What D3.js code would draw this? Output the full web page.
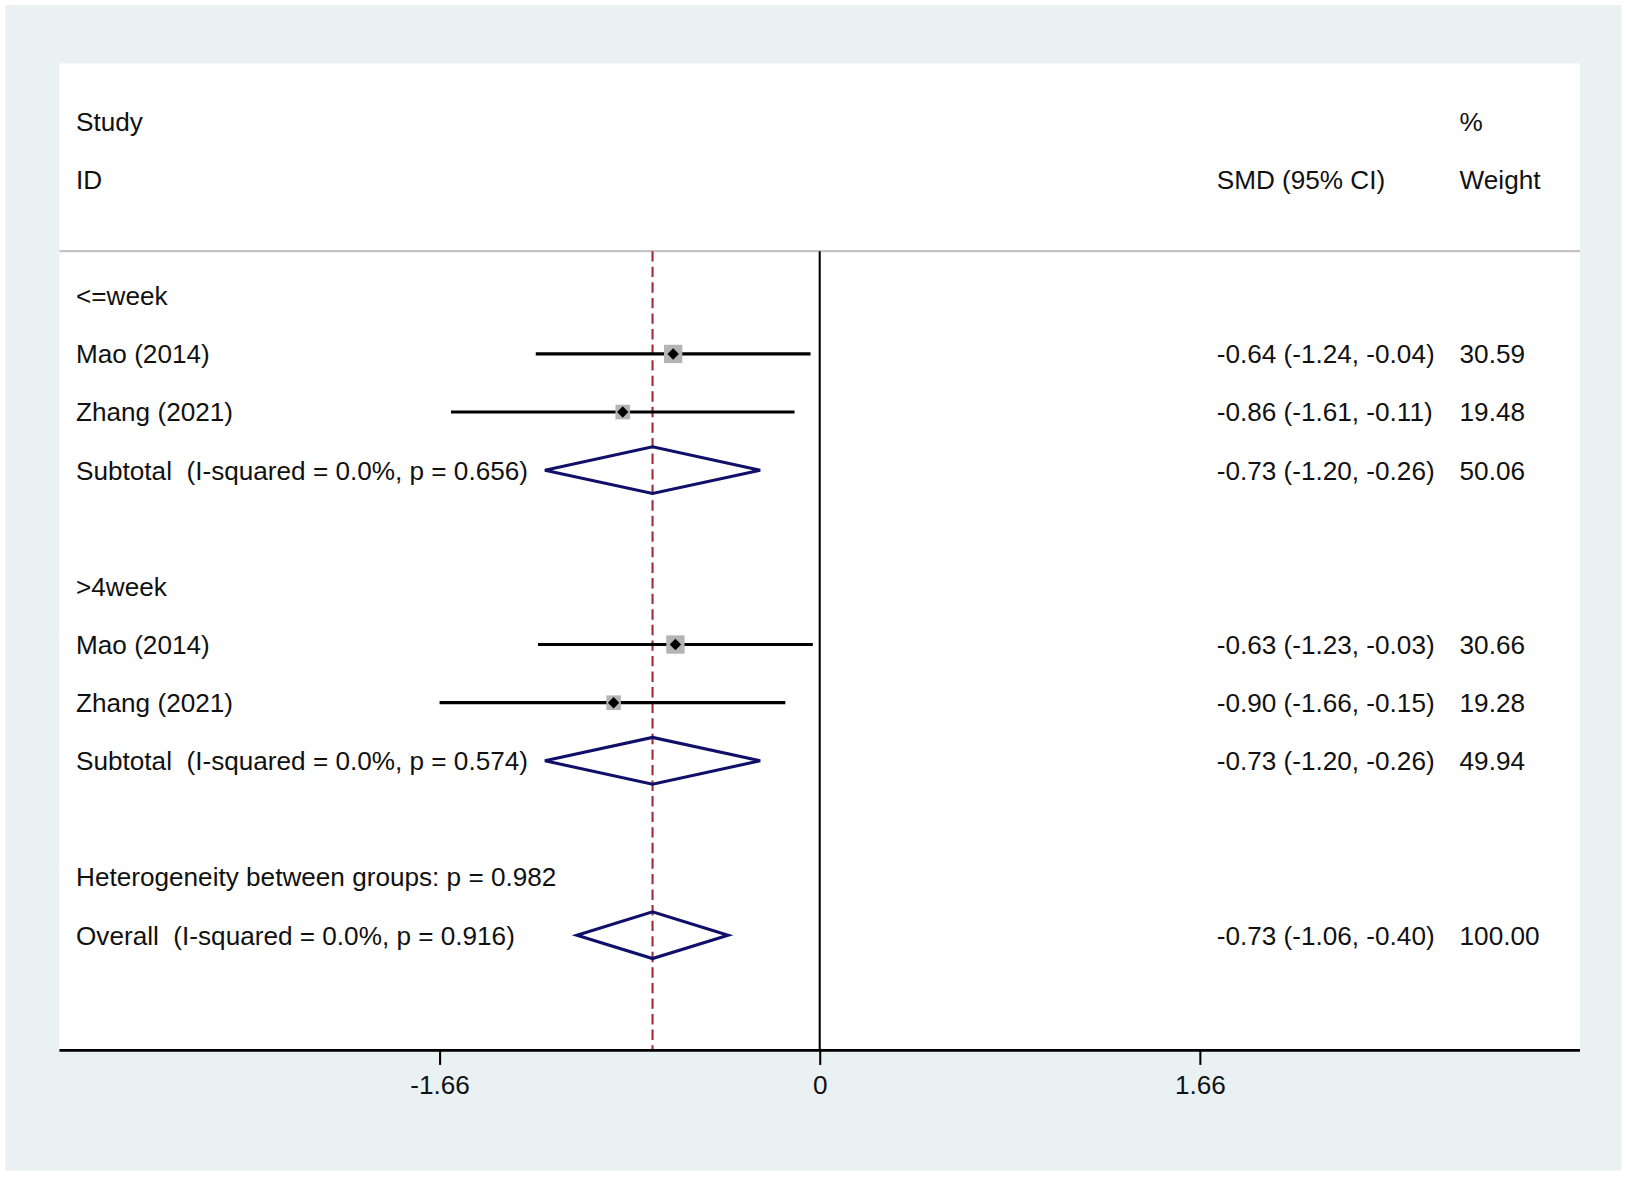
<!DOCTYPE html>
<html>
<head>
<meta charset="utf-8">
<script src="https://cdn.jsdelivr.net/npm/d3@7"></script>
<style>
  html, body { margin: 0; padding: 0; background: #ffffff; }
  svg { display: block; }
  text { font-family: "Liberation Sans", Arial, Helvetica, sans-serif; fill: #111; white-space: pre; }
</style>
</head>
<body>
<svg id="chart"></svg>
<script>
// forest plot data, one entry per row below the header
const rowLabels = ["<=week", "Mao (2014)", "Zhang (2021)", "Subtotal  (I-squared = 0.0%, p = 0.656)", "",
                   ">4week", "Mao (2014)", "Zhang (2021)", "Subtotal  (I-squared = 0.0%, p = 0.574)", "",
                   "Heterogeneity between groups: p = 0.982", "Overall  (I-squared = 0.0%, p = 0.916)"];
const rowTypes = ["group", "study", "study", "sub", "blank",
                  "group", "study", "study", "sub", "blank",
                  "note", "overall"];
const smd =     [null, -0.64, -0.86, -0.73, null, null, -0.63, -0.90, -0.73, null, null, -0.73];
const ciLow =   [null, -1.24, -1.61, -1.20, null, null, -1.23, -1.66, -1.20, null, null, -1.06];
const ciHigh =  [null, -0.04, -0.11, -0.26, null, null, -0.03, -0.15, -0.26, null, null, -0.40];
const weights = [null, 30.59, 19.48, 50.06, null, null, 30.66, 19.28, 49.94, null, null, 100.00];
const tickValues = [-1.66, 0, 1.66];
const overallSmd = -0.73;

// drawing is done in the reference's own pixel space, then scaled to the window
const W = 1568, H = 1134;
const panel = { left: 57, right: 1522, top: 61, bottom: 1012 };
const fontSize = 25.2;

const svg = d3.select("#chart")
    .attr("width", 1628)
    .attr("height", 1177)
    .attr("viewBox", `0 0 ${W} ${H}`);

svg.append("rect").attr("x", 0).attr("y", 0).attr("width", W).attr("height", H).attr("fill", "#ffffff");
svg.append("rect").attr("x", 5).attr("y", 5).attr("width", 1557).attr("height", 1123).attr("fill", "#e9f1f3");
svg.append("rect")
    .attr("x", panel.left).attr("y", panel.top)
    .attr("width", panel.right - panel.left).attr("height", panel.bottom - panel.top)
    .attr("fill", "#ffffff");

const x = d3.scaleLinear().domain([-3.32, 3.32]).range([panel.left, panel.right]);
// row index -> vertical centre; header rows are 0 and 1, data starts at 3
const y = d3.scaleLinear().domain([0, 1]).range([117, 173]);
const boxSide = d3.scaleSqrt().domain([0, 100]).range([0, 31.9]);

// plain hyphen for negatives, as in the Stata output
const fmt = d3.formatLocale({ decimal: ".", thousands: ",", grouping: [3], currency: ["", ""], minus: "-" }).format(".2f");

const labelX = 73, smdX = 1172, weightX = 1406;
const lineTop = 242;

function addText(tx, ty, str, anchor) {
    return svg.append("text")
        .attr("x", tx).attr("y", ty)
        .attr("dy", "0.36em")
        .attr("font-size", fontSize)
        .attr("text-anchor", anchor || "start")
        .attr("xml:space", "preserve")
        .text(str);
}

// header
addText(labelX, y(0), "Study");
addText(labelX, y(1), "ID");
addText(smdX, y(1), "SMD (95% CI)");
addText(weightX, y(0), "%");
addText(weightX, y(1), "Weight");

svg.append("line")
    .attr("x1", panel.left).attr("x2", panel.right)
    .attr("y1", lineTop).attr("y2", lineTop)
    .attr("stroke", "#c4c4c4").attr("stroke-width", 2.2);

// reference lines
svg.append("line")
    .attr("x1", x(0)).attr("x2", x(0))
    .attr("y1", lineTop).attr("y2", panel.bottom)
    .attr("stroke", "#000").attr("stroke-width", 2);

svg.append("line")
    .attr("x1", x(overallSmd)).attr("x2", x(overallSmd))
    .attr("y1", lineTop).attr("y2", panel.bottom)
    .attr("stroke", "#9e2a36").attr("stroke-width", 2)
    .attr("stroke-dasharray", "10,5");

const rows = rowLabels.map((label, i) => ({
    label, type: rowTypes[i], est: smd[i], lo: ciLow[i], hi: ciHigh[i], w: weights[i], row: i + 3
}));

// study rows: CI line, weight box, point marker
const studies = rows.filter(d => d.type === "study");

svg.selectAll(".ci").data(studies).join("line")
    .attr("class", "ci")
    .attr("x1", d => x(d.lo)).attr("x2", d => x(d.hi))
    .attr("y1", d => y(d.row)).attr("y2", d => y(d.row))
    .attr("stroke", "#000").attr("stroke-width", 3);

svg.selectAll(".box").data(studies).join("rect")
    .attr("class", "box")
    .attr("x", d => x(d.est) - boxSide(d.w) / 2)
    .attr("y", d => y(d.row) - boxSide(d.w) / 2)
    .attr("width", d => boxSide(d.w))
    .attr("height", d => boxSide(d.w))
    .attr("fill", "#b4b4b4");

svg.selectAll(".pt").data(studies).join("path")
    .attr("class", "pt")
    .attr("d", d => {
        const cx = x(d.est), cy = y(d.row), r = 5.5;
        return `M${cx - r},${cy}L${cx},${cy - r}L${cx + r},${cy}L${cx},${cy + r}Z`;
    })
    .attr("fill", "#000");

// pooled diamonds
const pooled = rows.filter(d => d.type === "sub" || d.type === "overall");
svg.selectAll(".dia").data(pooled).join("path")
    .attr("class", "dia")
    .attr("d", d => {
        const cy = y(d.row), h = 22.5;
        return `M${x(d.lo)},${cy}L${x(d.est)},${cy - h}L${x(d.hi)},${cy}L${x(d.est)},${cy + h}Z`;
    })
    .attr("fill", "none")
    .attr("stroke", "#10106a")
    .attr("stroke-width", 3)
    .attr("stroke-linejoin", "miter");

// labels and right columns
rows.filter(d => d.label).forEach(d => addText(labelX, y(d.row), d.label));

rows.filter(d => d.est !== null).forEach(d => {
    addText(smdX, y(d.row), `${fmt(d.est)} (${fmt(d.lo)}, ${fmt(d.hi)})`);
    addText(weightX, y(d.row), fmt(d.w));
});

// x axis
const axis = d3.axisBottom(x)
    .tickValues(tickValues)
    .tickSize(14)
    .tickPadding(10)
    .tickFormat(d => d === 0 ? "0" : fmt(d));

const gAxis = svg.append("g")
    .attr("transform", `translate(0,${panel.bottom})`)
    .call(axis);

gAxis.select(".domain")
    .attr("d", `M${panel.left},0H${panel.right}`)
    .attr("stroke", "#000").attr("stroke-width", 2.6);
gAxis.selectAll(".tick line").attr("stroke", "#000").attr("stroke-width", 2);
gAxis.selectAll(".tick text")
    .attr("font-size", fontSize)
    .attr("font-family", "Liberation Sans, Arial, sans-serif")
    .attr("fill", "#111");
</script>
</body>
</html>
